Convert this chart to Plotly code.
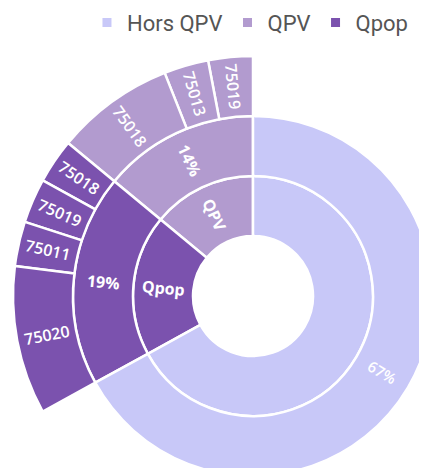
import math
import plotly.graph_objects as go

# ---- data ----
groups = ["QPV", "Qpop", "Hors QPV"]          # counter-clockwise from 12 o'clock
group_share = [14, 19, 67]                    # % of total
qpv_zip = ["75019", "75013", "75018"]
qpv_vals = [3, 3, 8]
qpop_zip = ["75018", "75019", "75011", "75020"]
qpop_vals = [3, 3, 3, 10]
colors = {"Hors QPV": "#c8c8f8", "QPV": "#b29bcf", "Qpop": "#7b52ae"}
legend_order = ["Hors QPV", "QPV", "Qpop"]
children = {"QPV": (qpv_zip, qpv_vals), "Qpop": (qpop_zip, qpop_vals), "Hors QPV": ([], [])}

# ---- build hierarchy ----
ids, labels, parents, values, cols = [], [], [], [], []
ids.append("root"); labels.append(""); parents.append(""); values.append(sum(group_share)); cols.append("rgba(255,255,255,0)")
for g, s in zip(groups, group_share):
    ids.append(g); labels.append(g); parents.append("root"); values.append(s); cols.append(colors[g])
    pid = g + "/pct"
    ids.append(pid); labels.append(f"{s}%"); parents.append(g); values.append(s); cols.append(colors[g])
    for z, v in zip(*children[g]):
        ids.append(pid + "/" + z); labels.append(z); parents.append(pid); values.append(v); cols.append(colors[g])

fig = go.Figure()
fig.add_trace(go.Sunburst(
    ids=ids, labels=labels, parents=parents, values=values,
    textinfo="none", branchvalues="total", sort=False, rotation=90,
    marker=dict(colors=cols, line=dict(color="white", width=2.5)),
    leaf=dict(opacity=1),
    hoverinfo="label+value",
))
for g in legend_order:
    fig.add_trace(go.Scatter(x=[None], y=[None], mode="markers", name=g,
                             marker=dict(symbol="square", size=9, color=colors[g])))

# ---- radial labels at each sector's mid-angle (derived from the data) ----
total = sum(group_share)
n_levels = 4                                  # root + 3 rings, sunburst fills the square domain
ring = 0.5 / n_levels


def add_label(text, level, a0, a1, size=16, weight=600):
    # a0, a1: fractions of the full turn, counter-clockwise from 12 o'clock
    phi = 90.0 + 360.0 * (a0 + a1) / 2.0      # math angle (deg, CCW from +x)
    r = (level + 0.5) * ring
    ang = (-phi) % 360.0
    if ang > 180:
        ang -= 360
    if ang > 90:
        ang -= 180
    elif ang <= -90:
        ang += 180
    fig.add_annotation(
        x=0.5 + r * math.cos(math.radians(phi)),
        y=0.5 + r * math.sin(math.radians(phi)),
        xref="paper", yref="paper", xanchor="center", yanchor="middle",
        text=text, showarrow=False, textangle=ang,
        font=dict(family="Open Sans", size=size, color="white", weight=weight),
    )


start = 0.0
for g, s in zip(groups, group_share):
    end = start + s / total
    if g == "Hors QPV":
        add_label(f"{s}%", 2, start, end, size=15, weight=600)
    else:
        add_label(g, 1, start, end, size=16, weight=700)
        add_label(f"{s}%", 2, start, end, size=16, weight=700)
        c0 = start
        for z, v in zip(*children[g]):
            c1 = c0 + v / total
            add_label(z, 3, c0, c1, size=16, weight=600)
            c0 = c1
    start = end

fig.update_layout(
    width=485, height=528,
    margin=dict(l=5, r=0, t=48, b=0),
    paper_bgcolor="white", plot_bgcolor="white",
    xaxis=dict(visible=False), yaxis=dict(visible=False),
    showlegend=True,
    legend=dict(orientation="h", xref="container", yref="container",
                x=0.835, y=0.972, xanchor="right", yanchor="middle",
                font=dict(family="Roboto", size=22, color="#555555"),
                itemwidth=30, tracegroupgap=0),
)
fig.write_html("out.html")
